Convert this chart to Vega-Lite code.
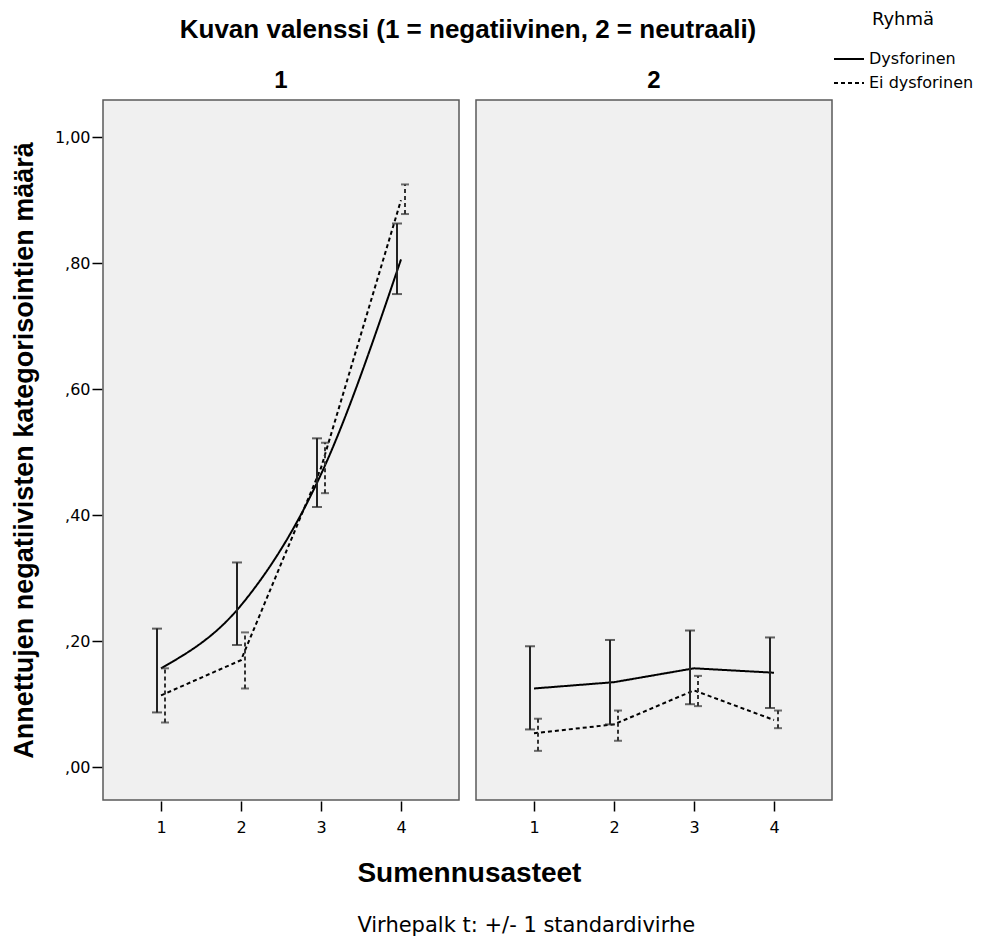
{
  "$schema": "https://vega.github.io/schema/vega-lite/v6.json",
  "background": "white",
  "padding": {"left": 10, "top": 11, "right": 2, "bottom": 0},
  "data": {"values": [
    {"valenssi": 1, "aste": 1, "ryhma": "Dysforinen", "ka": 0.157, "ala": 0.087, "yla": 0.220},
    {"valenssi": 1, "aste": 2, "ryhma": "Dysforinen", "ka": 0.257, "ala": 0.194, "yla": 0.325},
    {"valenssi": 1, "aste": 3, "ryhma": "Dysforinen", "ka": 0.465, "ala": 0.413, "yla": 0.522},
    {"valenssi": 1, "aste": 4, "ryhma": "Dysforinen", "ka": 0.806, "ala": 0.751, "yla": 0.863},
    {"valenssi": 1, "aste": 1, "ryhma": "Ei dysforinen", "ka": 0.114, "ala": 0.071, "yla": 0.157},
    {"valenssi": 1, "aste": 2, "ryhma": "Ei dysforinen", "ka": 0.170, "ala": 0.125, "yla": 0.214},
    {"valenssi": 1, "aste": 3, "ryhma": "Ei dysforinen", "ka": 0.475, "ala": 0.435, "yla": 0.515},
    {"valenssi": 1, "aste": 4, "ryhma": "Ei dysforinen", "ka": 0.900, "ala": 0.878, "yla": 0.925},
    {"valenssi": 2, "aste": 1, "ryhma": "Dysforinen", "ka": 0.125, "ala": 0.060, "yla": 0.192},
    {"valenssi": 2, "aste": 2, "ryhma": "Dysforinen", "ka": 0.135, "ala": 0.068, "yla": 0.202},
    {"valenssi": 2, "aste": 3, "ryhma": "Dysforinen", "ka": 0.157, "ala": 0.100, "yla": 0.217},
    {"valenssi": 2, "aste": 4, "ryhma": "Dysforinen", "ka": 0.150, "ala": 0.094, "yla": 0.206},
    {"valenssi": 2, "aste": 1, "ryhma": "Ei dysforinen", "ka": 0.054, "ala": 0.026, "yla": 0.077},
    {"valenssi": 2, "aste": 2, "ryhma": "Ei dysforinen", "ka": 0.068, "ala": 0.042, "yla": 0.090},
    {"valenssi": 2, "aste": 3, "ryhma": "Ei dysforinen", "ka": 0.122, "ala": 0.097, "yla": 0.145},
    {"valenssi": 2, "aste": 4, "ryhma": "Ei dysforinen", "ka": 0.075, "ala": 0.062, "yla": 0.090}
  ]},
  "facet": {
    "column": {
      "field": "valenssi", "type": "ordinal",
      "title": "Kuvan valenssi (1 = negatiivinen, 2 = neutraali)",
      "header": {
        "titleFont": "Liberation Sans", "titleFontSize": 26, "titleFontWeight": "bold", "titleColor": "#000", "titlePadding": 16,
        "labelFont": "Liberation Sans", "labelFontSize": 24, "labelFontWeight": "bold", "labelColor": "#000", "labelPadding": 6
      }
    }
  },
  "spacing": 15,
  "spec": {
    "width": 356,
    "height": 700,
    "encoding": {
      "x": {
        "field": "aste", "type": "quantitative",
        "scale": {"domain": [0.275, 4.725], "nice": false, "zero": false},
        "axis": {"values": [1, 2, 3, 4], "format": "d", "title": null, "labelPadding": 8}
      }
    },
    "layer": [
      {
        "transform": [{"filter": "datum.valenssi === 1 && datum.ryhma === 'Dysforinen'"}],
        "mark": {"type": "line", "interpolate": "monotone", "strokeWidth": 2, "color": "#000"},
        "encoding": {
          "y": {
            "field": "ka", "type": "quantitative",
            "scale": {"domain": [-0.052, 1.059], "nice": false, "zero": false},
            "axis": {
              "values": [0, 0.2, 0.4, 0.6, 0.8, 1.0],
              "labelExpr": "datum.value < 1 ? replace(format(datum.value, '.2f'), '0.', ',') : replace(format(datum.value, '.2f'), '.', ',')",
              "title": "Annettujen negatiivisten kategorisointien määrä",
              "titleFont": "Liberation Sans", "titleFontSize": 27, "titleFontWeight": "bold", "titlePadding": 16, "labelPadding": 2
            }
          },
          "strokeDash": {
            "field": "ryhma", "type": "nominal", "title": "Ryhmä",
            "scale": {"domain": ["Dysforinen", "Ei dysforinen"], "range": [[1, 0], [4, 3]]},
            "legend": {"orient": "none", "legendX": 730, "legendY": -89}
          }
        }
      },
      {
        "transform": [{"filter": "!(datum.valenssi === 1 && datum.ryhma === 'Dysforinen')"}],
        "mark": {"type": "line", "interpolate": "linear", "strokeWidth": 2, "color": "#000"},
        "encoding": {
          "y": {"field": "ka", "type": "quantitative"},
          "strokeDash": {"field": "ryhma", "type": "nominal"}
        }
      },
      {
        "transform": [{"filter": "datum.ryhma === 'Dysforinen'"}],
        "mark": {"type": "rule", "xOffset": -4, "strokeWidth": 2, "color": "#222"},
        "encoding": {"y": {"field": "ala", "type": "quantitative"}, "y2": {"field": "yla"}}
      },
      {
        "transform": [{"filter": "datum.ryhma === 'Ei dysforinen'"}],
        "mark": {"type": "rule", "xOffset": 4, "strokeWidth": 2, "color": "#333", "strokeDash": [4, 3]},
        "encoding": {"y": {"field": "ala", "type": "quantitative"}, "y2": {"field": "yla"}}
      },
      {
        "transform": [{"filter": "datum.ryhma === 'Dysforinen'"}, {"fold": ["ala", "yla"], "as": ["paa", "arvo"]}],
        "mark": {"type": "tick", "orient": "horizontal", "xOffset": -4, "size": 10, "thickness": 2, "color": "#222"},
        "encoding": {"y": {"field": "arvo", "type": "quantitative"}}
      },
      {
        "transform": [{"filter": "datum.ryhma === 'Ei dysforinen'"}, {"fold": ["ala", "yla"], "as": ["paa", "arvo"]}],
        "mark": {"type": "tick", "orient": "horizontal", "xOffset": 4, "size": 8, "thickness": 2, "color": "#333"},
        "encoding": {"y": {"field": "arvo", "type": "quantitative"}}
      }
    ]
  },
  "resolve": {"scale": {"y": "shared", "x": "shared"}},
  "title": {
    "text": "Sumennusasteet",
    "subtitle": "Virhepalk t:  +/- 1  standardivirhe",
    "orient": "bottom", "anchor": "start", "frame": "bounds", "dx": 347,
    "font": "Liberation Sans", "fontSize": 28, "fontWeight": "bold", "color": "#000", "offset": 25,
    "subtitleFont": "DejaVu Sans", "subtitleFontSize": 21, "subtitleColor": "#000", "subtitlePadding": 27
  },
  "config": {
    "font": "Liberation Sans",
    "view": {"fill": "#f0f0f0", "stroke": "#5a5a5a", "strokeWidth": 1.5},
    "axis": {
      "grid": false, "domain": false, "tickColor": "#000", "tickWidth": 1.5, "tickSize": 10,
      "labelFont": "DejaVu Sans", "labelFontSize": 16, "labelColor": "#000",
      "titleFont": "Liberation Sans", "titleColor": "#000"
    },
    "legend": {
      "padding": 0,
      "titleFont": "DejaVu Sans", "titleFontSize": 18, "titleFontWeight": "normal", "titleColor": "#000", "titlePadding": 14, "titleAnchor": "middle",
      "labelFont": "DejaVu Sans", "labelFontSize": 16, "labelColor": "#000", "rowPadding": -11,
      "symbolType": "stroke", "symbolSize": 900, "symbolStrokeWidth": 2, "symbolStrokeColor": "#000", "labelOffset": 4
    }
  }
}
